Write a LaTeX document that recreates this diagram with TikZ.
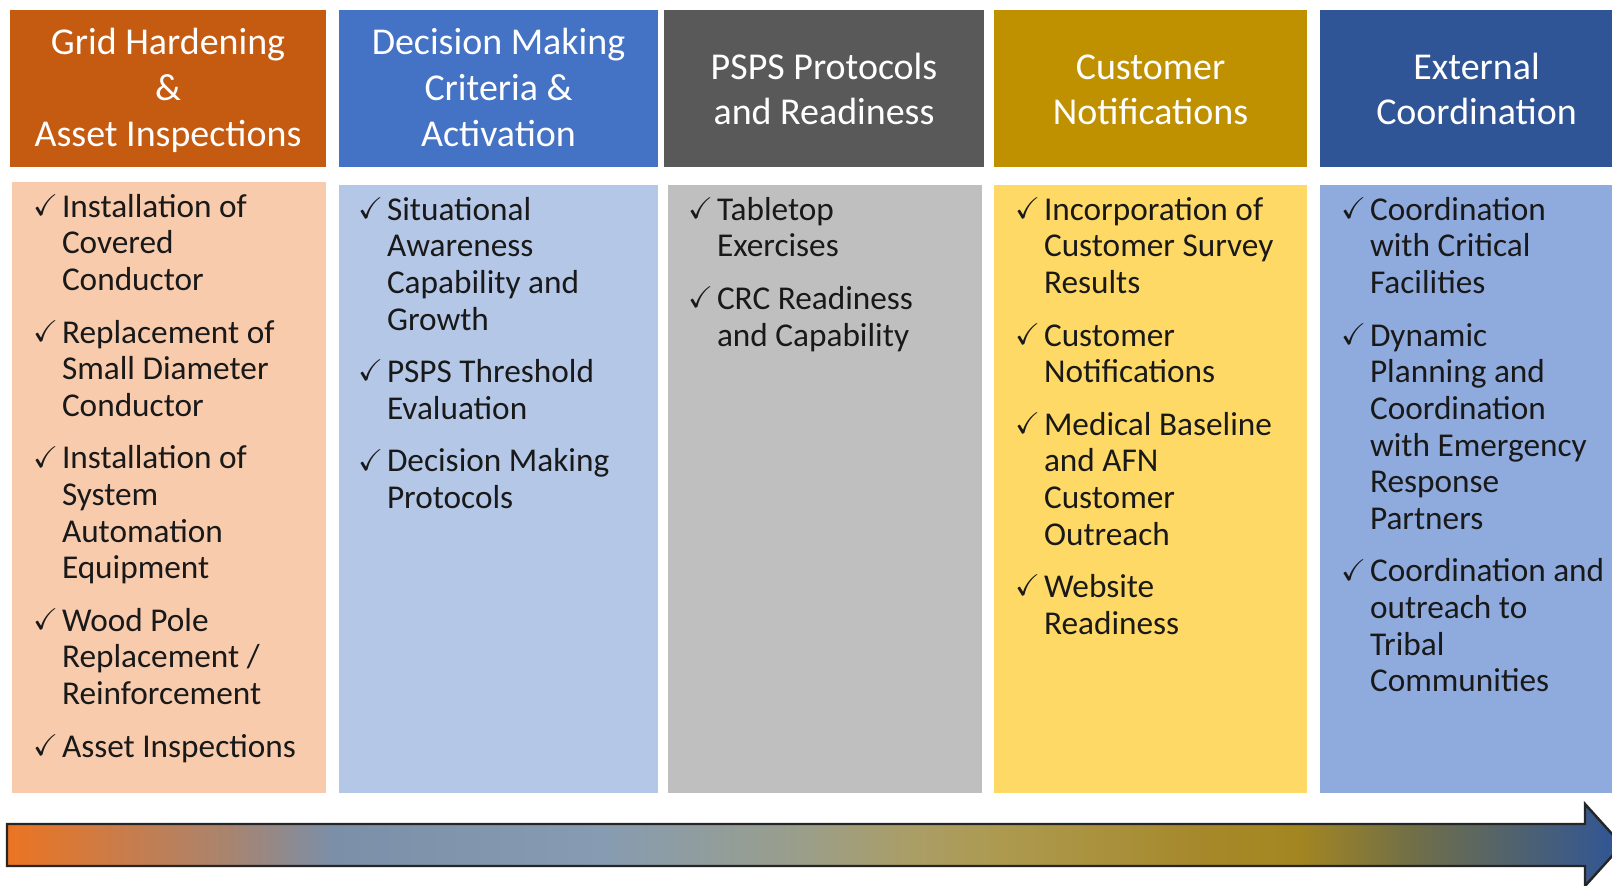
\documentclass[tikz,border=0pt]{standalone}
\usepackage{amssymb}
\usepackage{xcolor}
\usepackage{graphicx}
\usepackage{fontspec}
\setmainfont{Carlito}
\usetikzlibrary{positioning,calc}
\definecolor{colorGH}{HTML}{C55A11}
\definecolor{colorDM}{HTML}{4472C4}
\definecolor{colorPR}{HTML}{595959}
\definecolor{colorCN}{HTML}{BF9000}
\definecolor{colorEC}{HTML}{2F5597}
\definecolor{colorGHbg}{HTML}{F8CBAD}
\definecolor{colorDMbg}{HTML}{B4C7E7}
\definecolor{colorPRbg}{HTML}{BFBFBF}
\definecolor{colorCNbg}{HTML}{FFD966}
\definecolor{colorECbg}{HTML}{8FAADC}
\definecolor{tlA}{HTML}{EC7422}
\definecolor{tlB}{HTML}{A88470}
\definecolor{tlC}{HTML}{7B8FA8}
\definecolor{tlD}{HTML}{879CB2}
\definecolor{tlE}{HTML}{9A9E8A}
\definecolor{tlF}{HTML}{AA9E68}
\definecolor{tlG}{HTML}{AD9A50}
\definecolor{tlH}{HTML}{A6882A}
\definecolor{tlI}{HTML}{A48620}
\definecolor{tlJ}{HTML}{6E6E4A}
\definecolor{tlK}{HTML}{2F5597}
\pgfdeclarehorizontalshading{timeline}{100bp}{color(0bp)=(tlA); color(25bp)=(tlA);
  color(31.9bp)=(tlB); color(35.1bp)=(tlC); color(43.4bp)=(tlD); color(49.6bp)=(tlE);
  color(52.8bp)=(tlF); color(55.7bp)=(tlG); color(62.1bp)=(tlH); color(64.9bp)=(tlI);
  color(68.7bp)=(tlJ); color(75bp)=(tlK); color(100bp)=(tlK)}
\newlength{\tickind}
\setlength{\tickind}{2.9mm}
\newcommand{\ticksym}{\raisebox{0.5pt}{\scalebox{0.9}{$\checkmark$}}}
\newcommand{\tickitem}[1]{\hangindent=\tickind\hangafter=1\noindent\makebox[\tickind][l]{\ticksym}#1\par\vspace{4.5pt}}
\tikzset{
   every path/.style={>=stealth},
   head/.style={rectangle, minimum height=15.7mm, inner sep=0pt},
   headtext/.style={text=white, align=center, font=\fontsize{10.8}{13}\selectfont},
   body/.style={rectangle, minimum height=60.8mm, inner sep=0pt},
   list/.style={anchor=base west, inner sep=0pt, text=black!90,
                font=\fontsize{9.47}{10.43}\selectfont},
   timeline arrow/.style={shading=timeline, draw=black!85, line width=0.7pt, line join=miter},
}
\begin{document}
\begin{tikzpicture}[x=0.1mm, y=-0.1mm]
\clip (0,0) rectangle (1612,885);
\fill[white] (0,0) rectangle (1612,885);

% headers
\node[head, fill=colorGH, minimum width=31.6mm,
  label={[headtext, yshift=-0.8pt]center:{\strut Grid Hardening\\\&\\Asset Inspections\strut}}] (h1) at (168,88.5) {};
\node[head, fill=colorDM, minimum width=31.9mm,
  label={[headtext, yshift=-0.8pt]center:{\strut Decision Making\\Criteria \&\\Activation\strut}}] (h2) at (498.5,88.5) {};
\node[head, fill=colorPR, minimum width=32.0mm,
  label={[headtext, yshift=-1.2pt]center:{\strut PSPS Protocols\\and Readiness\strut}}] (h3) at (824,88.5) {};
\node[head, fill=colorCN, minimum width=31.3mm,
  label={[headtext, yshift=-1.2pt]center:{\strut Customer\\Notifications\strut}}] (h4) at (1150.5,88.5) {};
\node[head, fill=colorEC, minimum width=31.3mm,
  label={[headtext, yshift=-1.2pt]center:{\strut External\\Coordination\strut}}] (h5) at (1476.5,88.5) {};

% columns
\node[body, fill=colorGHbg, minimum width=31.4mm, minimum height=61.1mm] (b1) at (169,487.5) {};
\node[body, fill=colorDMbg, minimum width=31.9mm] (b2) at (498.5,489) {};
\node[body, fill=colorPRbg, minimum width=31.4mm] (b3) at (825,489) {};
\node[body, fill=colorCNbg, minimum width=31.3mm] (b4) at (1150.5,489) {};
\node[body, fill=colorECbg, minimum width=31.3mm] (b5) at (1476.5,489) {};

\node[list] (l1) at ([shift={(21,36)}]b1.north west) {\parbox[t]{31mm}{%
  \tickitem{Installation of\\Covered\\Conductor}
  \tickitem{Replacement of\\Small Diameter\\Conductor}
  \tickitem{Installation of\\System\\Automation\\Equipment}
  \tickitem{Wood Pole\\Replacement /\\Reinforcement}
  \tickitem{Asset Inspections}}};
\node[list] (l2) at ([shift={(19,36)}]b2.north west) {\parbox[t]{31mm}{%
  \tickitem{Situational\\Awareness\\Capability and\\Growth}
  \tickitem{PSPS Threshold\\Evaluation}
  \tickitem{Decision Making\\Protocols}}};
\node[list] (l3) at ([shift={(20,36)}]b3.north west) {\parbox[t]{31mm}{%
  \tickitem{Tabletop\\Exercises}
  \tickitem{CRC Readiness\\and Capability}}};
\node[list] (l4) at ([shift={(21,36)}]b4.north west) {\parbox[t]{31mm}{%
  \tickitem{Incorporation of\\Customer Survey\\Results}
  \tickitem{Customer\\Notifications}
  \tickitem{Medical Baseline\\and AFN\\Customer\\Outreach}
  \tickitem{Website\\Readiness}}};
\node[list] (l5) at ([shift={(21,36)}]b5.north west) {\parbox[t]{31mm}{%
  \tickitem{Coordination\\with Critical\\Facilities}
  \tickitem{Dynamic\\Planning and\\Coordination\\with Emergency\\Response\\Partners}
  \tickitem{Coordination and\\outreach to\\Tribal\\Communities}}};

% timeline
\draw[timeline arrow] (7,824) -- (1585,824) -- (1585,804) -- (1622,845)
  -- (1585,886) -- (1585,866) -- (7,866) -- cycle;
\end{tikzpicture}
\end{document}
